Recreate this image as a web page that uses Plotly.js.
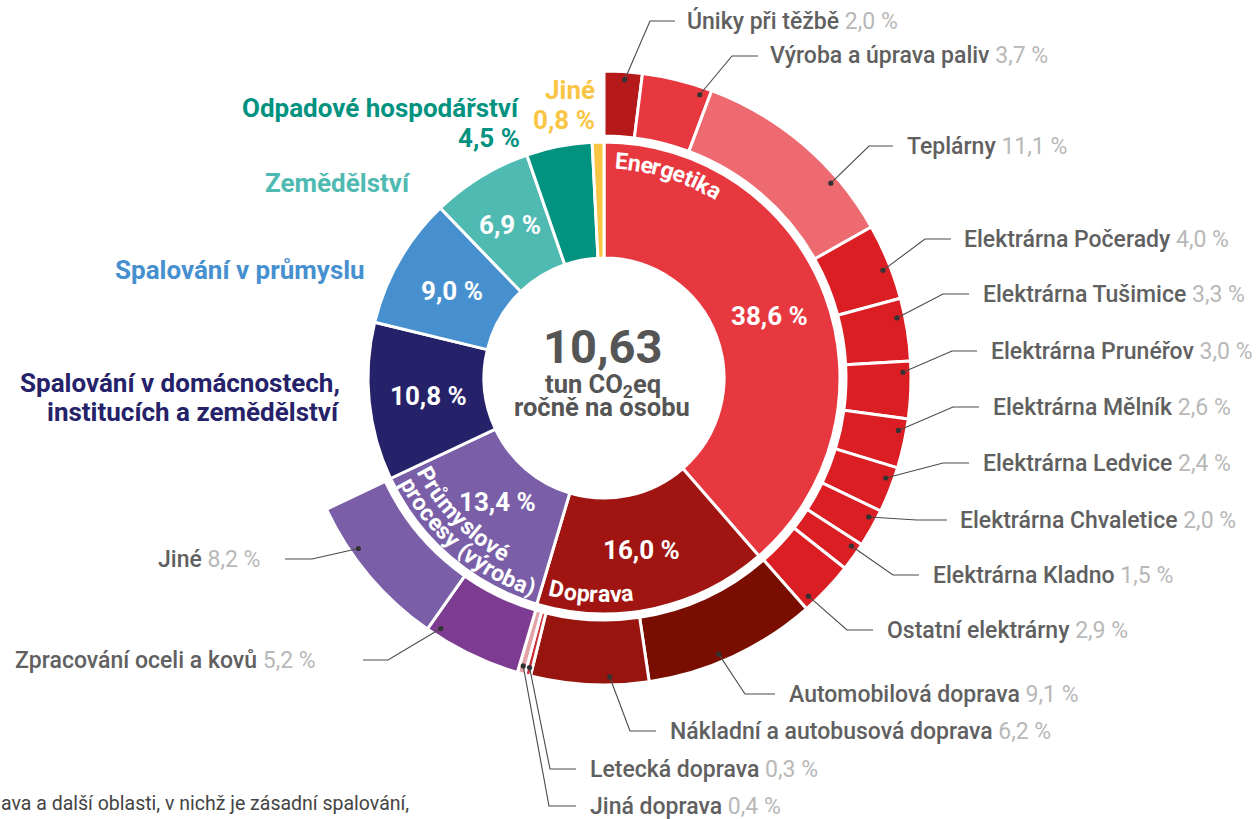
<!DOCTYPE html>
<html><head><meta charset="utf-8">
<script src="https://cdn.plot.ly/plotly-3.0.1.min.js"></script>
<style>html,body{margin:0;padding:0;background:#fff;}#chart{width:1257px;height:819px;}</style>
</head><body><div id="chart"></div>
<script>
// ---------------- DATA ----------------
const sectors = ['Energetika', 'Doprava', 'Průmyslové procesy (výroba)',
  'Spalování v domácnostech,<br>institucích a zemědělství', 'Spalování v průmyslu',
  'Zemědělství', 'Odpadové hospodářství', 'Jiné'];
const sectorValues = [38.6, 16.0, 13.4, 10.8, 9.0, 6.9, 4.5, 0.8];

const energetikaParts = ['Úniky při těžbě', 'Výroba a úprava paliv', 'Teplárny',
  'Elektrárna Počerady', 'Elektrárna Tušimice', 'Elektrárna Prunéřov', 'Elektrárna Mělník',
  'Elektrárna Ledvice', 'Elektrárna Chvaletice', 'Elektrárna Kladno', 'Ostatní elektrárny'];
const energetikaValues = [2.0, 3.7, 11.1, 4.0, 3.3, 3.0, 2.6, 2.4, 2.0, 1.5, 2.9];

const dopravaParts = ['Automobilová doprava', 'Nákladní a autobusová doprava', 'Letecká doprava', 'Jiná doprava'];
const dopravaValues = [9.1, 6.2, 0.3, 0.4];

const prumyslParts = ['Zpracování oceli a kovů', 'Jiné'];
const prumyslValues = [5.2, 8.2];

const centerValue = '10,63';
const centerUnit = 'tun CO<sub>2</sub>eq';
const centerUnit2 = 'ročně na osobu';
const footnote = 'ava a další oblasti, v nichž je zásadní spalování,';

// ---------------- STYLE / GEOMETRY ----------------
const W = 1257, H = 819;
const G = {cx: 604, cy: 378, r0: 120, r1: 236, r2: 242, r3: 307, dotR: 299};
const FONT = 'Roboto, "Open Sans", sans-serif';
const sectorColors = ['#E8383F', '#A01511', '#7A5FA8', '#26226A', '#4690CF', '#4FBAB2', '#019280', '#F9C544'];
const energetikaColors = ['#B5191A', '#E8383F', '#EC6A70', '#DB1E24', '#DB1E24', '#DB1E24', '#DB1E24', '#DB1E24', '#DB1E24', '#DB1E24', '#DB1E24'];
const dopravaColors = ['#790D00', '#98140E', '#CC2F3A', '#E2A3A7'];
const prumyslColors = ['#7E3B92', '#7A5FA8'];

// inside percentage label radius per sector (null = none)
const pctRadius = [177, 176, 163, 176, 175, 180, null, null];
// outside sector labels: one y per line
const sectorLabelPos = [null, null, null,
  {x: 342, ys: [383, 412], xa: 'right', pct: false},
  {x: 113, ys: [270], xa: 'left', pct: false},
  {x: 263, ys: [183], xa: 'left', pct: false},
  {x: 522, ys: [108, 138], xa: 'right', pct: true},
  {x: 597, ys: [90, 120], xa: 'right', pct: true}];

// callouts for outer slices, in ring order: f = position of dot inside slice (0..1)
const calloutPos = [
  {f: 0.55, ex: 650, ey: 21, hx: 675, tx: 685},
  {f: 0.86, ex: 732, ey: 56, hx: 758, tx: 768},
  {f: 0.72, ex: 869, ey: 146, hx: 893, tx: 905},
  {f: 0.58, ex: 925, ey: 239, hx: 951, tx: 962},
  {f: 0.29, ex: 943, ey: 294, hx: 969, tx: 981},
  {f: 0.19, ex: 952, ey: 351, hx: 977, tx: 989},
  {f: 0.26, ex: 953, ey: 407, hx: 979, tx: 991},
  {f: 0.29, ex: 943, ey: 463, hx: 969, tx: 981},
  {f: 0.28, ex: 917, ey: 520, hx: 947, tx: 958},
  {f: 0.24, ex: 893, ey: 575, hx: 919, tx: 931},
  {f: 0.82, ex: 847, ey: 630, hx: 873, tx: 885},
  {f: 0.57, ex: 745, ey: 694, hx: 775, tx: 787},
  {f: 0.33, ex: 630, ey: 731, hx: 656, tx: 668},
  {f: 0.5, ex: 550, ey: 769, hx: 576, tx: 588},
  {f: 0.5, ex: 549, ey: 806, hx: 576, tx: 588},
  {f: 0.89, ex: 388, ey: 660, hx: 363, tx: 318, left: true},
  {f: 0.68, ex: 312, ey: 559, hx: 285, tx: 262, left: true}
];

// curved labels: center angle (deg clockwise from top), radius, dir (+1 reads clockwise, -1 counterclockwise)
const curvedLabels = [
  {text: 'Energetika', ang: 17.5, r: 217, dir: 1},
  {text: 'Doprava', ang: 183.4, r: 217, dir: -1},
  {text: 'Průmyslové', ang: 226, r: 202, dir: -1},
  {text: 'procesy (výroba)', ang: 220.5, r: 222, dir: -1}
];

// ---------------- HELPERS ----------------
const fx = x => x / W, fy = y => 1 - y / H;
function polar(th, r) { const a = th * Math.PI / 180; return [G.cx + r * Math.sin(a), G.cy - r * Math.cos(a)]; }
const fmt = v => v.toFixed(1).replace('.', ',') + ' %';
function dom(r) { return {x: [fx(G.cx - r), fx(G.cx + r)], y: [fy(G.cy + r), fy(G.cy - r)]}; }

// ---------------- TRACES ----------------
const outerNames = [...energetikaParts, ...dopravaParts, ...prumyslParts, ...sectors.slice(3)];
const outerValues = [...energetikaValues, ...dopravaValues, ...prumyslValues, ...sectorValues.slice(3)];
const nLabeled = energetikaParts.length + dopravaParts.length + prumyslParts.length;
const outerColors = [...energetikaColors, ...dopravaColors, ...prumyslColors, ...sectorValues.slice(3).map(() => 'rgba(0,0,0,0)')];
const outerLineW = outerValues.map((v, i) => i < nLabeled ? 3 : 0);

const inner = {
  type: 'pie', values: sectorValues, labels: sectors, sort: false, direction: 'clockwise', rotation: 0,
  hole: G.r0 / G.r1, domain: dom(G.r1), textinfo: 'none', hoverinfo: 'label+value',
  marker: {colors: sectorColors, line: {color: '#ffffff', width: 3}}
};
const outer = {
  type: 'pie', values: outerValues, labels: outerNames.map((n, i) => n + '#' + i), sort: false, direction: 'clockwise', rotation: 0,
  hole: G.r2 / G.r3, domain: dom(G.r3), textinfo: 'none', hoverinfo: 'value',
  marker: {colors: outerColors, line: {color: '#ffffff', width: outerLineW}}
};

// ---------------- ANNOTATIONS & SHAPES ----------------
const annotations = [], shapes = [];
const ann = (o) => annotations.push(Object.assign({xref: 'paper', yref: 'paper', showarrow: false, xanchor: 'center', yanchor: 'middle'}, o));
// center text
ann({text: '<b>' + centerValue + '</b>', x: fx(602), y: fy(346), font: {family: FONT, size: 47, color: '#555555'}});
ann({text: '<b>' + centerUnit + '</b>', x: fx(603), y: fy(385), font: {family: FONT, size: 25.5, color: '#555555'}});
ann({text: '<b>' + centerUnit2 + '</b>', x: fx(602), y: fy(407), font: {family: FONT, size: 25.5, color: '#555555'}});

// inner percentages and outside sector labels
const totalIn = sectorValues.reduce((a, b) => a + b, 0);
let cum = 0;
sectorValues.forEach((v, i) => {
  const mid = (cum + v / 2) / totalIn * 360; cum += v;
  if (pctRadius[i]) {
    const [x, y] = polar(mid, pctRadius[i]);
    ann({text: '<b>' + fmt(v) + '</b>', x: fx(x), y: fy(y), font: {family: FONT, size: 26, color: '#ffffff'}});
  }
  const lp = sectorLabelPos[i];
  if (lp) {
    const lines = sectors[i].split('<br>');
    if (lp.pct) lines.push(fmt(v));
    lines.forEach((t, k) => ann({text: '<b>' + t + '</b>', x: fx(lp.x), y: fy(lp.ys[k]), xanchor: lp.xa,
      font: {family: FONT, size: 26, color: sectorColors[i]}}));
  }
});

// callouts
const totalOut = outerValues.reduce((a, b) => a + b, 0);
let c2 = 0;
outerValues.forEach((v, i) => {
  const start = c2; c2 += v;
  if (i >= nLabeled) return;
  const p = calloutPos[i];
  const th = (start + v * p.f) / totalOut * 360;
  const [dx, dy] = polar(th, G.dotR);
  shapes.push({type: 'path', xref: 'paper', yref: 'paper',
    path: `M ${fx(dx)},${fy(dy)} L ${fx(p.ex)},${fy(p.ey)} L ${fx(p.hx)},${fy(p.ey)}`,
    line: {color: '#4a4a4a', width: 1.1}});
  const dr = 2.6;
  shapes.push({type: 'circle', xref: 'paper', yref: 'paper', x0: fx(dx - dr), x1: fx(dx + dr), y0: fy(dy + dr), y1: fy(dy - dr),
    fillcolor: '#333333', line: {width: 0}});
  ann({text: outerNames[i] + ' <span style="font-weight:400;fill:#b8b8b8;color:#b8b8b8">' + fmt(v) + '</span>',
    x: fx(p.tx), y: fy(p.ey), xanchor: p.left ? 'right' : 'left',
    font: {family: FONT, size: 23, color: '#606060', weight: 500}});
});

// curved labels
const cv = document.createElement('canvas').getContext('2d');
const CURVE_SIZE = 23;
cv.font = `bold ${CURVE_SIZE}px Roboto`;
curvedLabels.forEach(lb => {
  const s = lb.text, total = cv.measureText(s).width;
  const degPerPx = 180 / (Math.PI * lb.r);
  for (let k = 0; k < s.length; k++) {
    const a0 = cv.measureText(s.slice(0, k)).width, a1 = cv.measureText(s.slice(0, k + 1)).width;
    const ch = s[k];
    if (ch === ' ') continue;
    const mid = (a0 + a1) / 2 - total / 2;
    const th = lb.ang + lb.dir * mid * degPerPx;
    const [x, y] = polar(th, lb.r);
    ann({text: '<b>' + ch + '</b>', x: fx(x), y: fy(y), textangle: lb.dir > 0 ? th : th - 180,
      font: {family: FONT, size: CURVE_SIZE, color: '#ffffff'}});
  }
});

// footnote
ann({text: footnote, x: fx(411), y: fy(803), xanchor: 'right', font: {family: FONT, size: 19.5, color: '#444444'}});

const layout = {
  width: W, height: H, margin: {l: 0, r: 0, t: 0, b: 0}, showlegend: false,
  paper_bgcolor: '#ffffff', plot_bgcolor: '#ffffff', annotations, shapes
};
Plotly.newPlot('chart', [outer, inner], layout, {displayModeBar: false, staticPlot: true});
</script>
</body></html>
